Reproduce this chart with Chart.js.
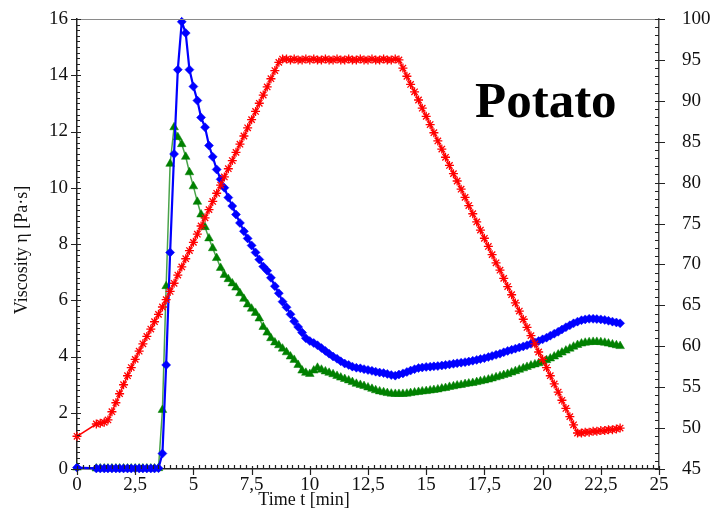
<!DOCTYPE html>
<html>
<head>
<meta charset="utf-8">
<script src="https://cdn.jsdelivr.net/npm/chart.js@4.4.1/dist/chart.umd.min.js"></script>
<style>
html,body{margin:0;padding:0;background:#fff;}
#wrap{width:717px;height:510px;}
</style>
</head>
<body>
<div id="wrap"><canvas id="c" width="717" height="510"></canvas></div>
<script>
// Time [min]
const timeMin = [
  0,
  0.83,
  1,1.17,1.33,1.5,1.67,1.83,
  2,2.17,2.33,2.5,2.67,2.83,
  3,3.17,3.33,3.5,3.67,3.83,
  4,4.17,4.33,4.5,4.67,4.83,
  5,5.17,5.33,5.5,5.67,5.83,
  6,6.17,6.33,6.5,6.67,6.83,
  7,7.17,7.33,7.5,7.67,7.83,
  8,8.17,8.33,8.5,8.67,8.83,
  9,9.17,9.33,9.5,9.67,9.83,
  10,10.17,10.33,10.5,10.67,10.83,
  11,11.17,11.33,11.5,11.67,11.83,
  12,12.17,12.33,12.5,12.67,12.83,
  13,13.17,13.33,13.5,13.67,13.83,
  14,14.17,14.33,14.5,14.67,14.83,
  15,15.17,15.33,15.5,15.67,15.83,
  16,16.17,16.33,16.5,16.67,16.83,
  17,17.17,17.33,17.5,17.67,17.83,
  18,18.17,18.33,18.5,18.67,18.83,
  19,19.17,19.33,19.5,19.67,19.83,
  20,20.17,20.33,20.5,20.67,20.83,
  21,21.17,21.33,21.5,21.67,21.83,
  22,22.17,22.33,22.5,22.67,22.83,
  23,23.17,23.33
];
// Viscosity, blue series [Pa·s]
const viscBlue = [
  0.05,
  0.02,
  0.02,0.02,0.02,0.02,0.02,0.02,
  0.02,0.02,0.02,0.02,0.02,0.02,
  0.02,0.02,0.02,0.03,0.55,3.7,
  7.7,11.2,14.2,15.9,15.5,14.2,
  13.6,13.1,12.5,12.15,11.5,11.1,
  10.65,10.3,10.0,9.65,9.35,9.05,
  8.75,8.45,8.2,7.95,7.7,7.45,
  7.2,7.05,6.8,6.5,6.25,5.95,
  5.75,5.5,5.25,5.05,4.85,4.65,
  4.55,4.48,4.4,4.3,4.2,4.1,
  4.0,3.92,3.83,3.75,3.7,3.64,
  3.6,3.58,3.55,3.52,3.49,3.46,
  3.43,3.41,3.38,3.34,3.32,3.36,
  3.4,3.45,3.5,3.55,3.59,3.61,
  3.63,3.64,3.65,3.66,3.68,3.7,
  3.72,3.74,3.76,3.78,3.8,3.82,
  3.85,3.88,3.91,3.94,3.98,4.02,
  4.06,4.1,4.15,4.2,4.24,4.28,
  4.32,4.36,4.4,4.45,4.5,4.55,
  4.61,4.67,4.74,4.81,4.88,4.96,
  5.04,5.11,5.18,5.24,5.29,5.32,
  5.34,5.34,5.33,5.32,5.3,5.27,
  5.24,5.21,5.18
];
// Viscosity, green series [Pa·s]
const viscGreen = [
  0.05,
  0.02,
  0.02,0.02,0.02,0.02,0.02,0.02,
  0.02,0.02,0.02,0.02,0.02,0.02,
  0.02,0.02,0.02,0.03,2.1,6.5,
  10.85,12.15,11.8,11.55,11.1,10.55,
  10.05,9.5,9.05,8.6,8.2,7.85,
  7.5,7.15,6.9,6.75,6.6,6.45,
  6.25,6.05,5.85,5.7,5.55,5.35,
  5.05,4.85,4.65,4.5,4.4,4.28,
  4.15,4.0,3.88,3.7,3.5,3.42,
  3.38,3.5,3.6,3.53,3.47,3.42,
  3.37,3.31,3.25,3.2,3.15,3.09,
  3.03,2.99,2.95,2.9,2.85,2.8,
  2.76,2.73,2.7,2.68,2.67,2.67,
  2.67,2.68,2.7,2.72,2.74,2.76,
  2.77,2.79,2.81,2.83,2.86,2.88,
  2.92,2.94,2.97,2.99,3.02,3.04,
  3.06,3.09,3.12,3.15,3.18,3.22,
  3.26,3.3,3.34,3.38,3.43,3.48,
  3.53,3.58,3.63,3.68,3.72,3.76,
  3.81,3.87,3.93,4.0,4.07,4.14,
  4.21,4.28,4.35,4.41,4.46,4.49,
  4.51,4.52,4.52,4.51,4.49,4.46,
  4.43,4.4,4.37
];
// Temperature, red series [°C] (right axis)
const temperature = [
  49.0,
  50.5,
  50.6,50.7,51.0,52.0,53.1,54.2,
  55.3,56.4,57.4,58.4,59.4,60.3,
  61.2,62.1,63.0,63.9,64.8,65.7,
  66.7,67.7,68.7,69.7,70.7,71.7,
  72.7,73.7,74.7,75.7,76.7,77.7,
  78.7,79.7,80.7,81.7,82.7,83.7,
  84.7,85.7,86.7,87.7,88.7,89.7,
  90.7,91.7,92.7,93.7,94.7,95.1,
  95.1,95.0,95.1,95.0,95.0,95.1,
  95.0,95.1,95.0,95.0,95.1,95.0,
  95.0,95.1,95.0,95.0,95.1,95.0,
  95.0,95.1,95.0,95.0,95.1,95.0,
  95.0,95.1,95.0,95.0,95.1,95.0,
  94.0,93.0,92.0,91.1,90.1,89.1,
  88.1,87.1,86.1,85.1,84.1,83.1,
  82.1,81.1,80.2,79.2,78.2,77.2,
  76.2,75.2,74.2,73.2,72.2,71.2,
  70.2,69.3,68.3,67.3,66.3,65.3,
  64.3,63.3,62.3,61.3,60.3,59.3,
  58.4,57.4,56.4,55.4,54.4,53.4,
  52.4,51.4,50.4,49.4,49.4,49.5,
  49.5,49.6,49.6,49.7,49.7,49.8,
  49.8,49.9,50.0
];
const xTicks = [0,2.5,5,7.5,10,12.5,15,17.5,20,22.5,25];
const yLeftTicks = [0,2,4,6,8,10,12,14,16];
const yRightTicks = [45,50,55,60,65,70,75,80,85,90,95,100];
const xTitle = 'Time t [min]';
const yTitle = 'Viscosity \u03b7 [Pa\u00b7s]';
const sampleLabel = 'Potato';

const pts = (ys) => timeMin.map((t, i) => ({x: t, y: ys[i]}));
const fmt = (v) => String(v).replace('.', ',');
const SERIF = "'Liberation Serif', 'DejaVu Serif', serif";

// fixed plot frame inside the 717x510 canvas
const FRAME = { left: 77, right: 659, top: 19, bottom: 469 };

const frameFix = {
  id: 'frameFix',
  afterLayout(chart) {
    const ca = chart.chartArea;
    ca.left = FRAME.left; ca.right = FRAME.right; ca.top = FRAME.top; ca.bottom = FRAME.bottom;
    ca.width = FRAME.right - FRAME.left; ca.height = FRAME.bottom - FRAME.top;
    const sx = chart.scales.x, sl = chart.scales.y, sr = chart.scales.y2;
    sx.left = FRAME.left; sx.right = FRAME.right; sx.width = FRAME.right - FRAME.left;
    sx.top = FRAME.bottom; sx.bottom = 510; sx.height = 510 - FRAME.bottom;
    sl.top = FRAME.top; sl.bottom = FRAME.bottom; sl.height = FRAME.bottom - FRAME.top;
    sl.left = 0; sl.right = FRAME.left; sl.width = FRAME.left;
    sr.top = FRAME.top; sr.bottom = FRAME.bottom; sr.height = FRAME.bottom - FRAME.top;
    sr.left = FRAME.right; sr.right = 717; sr.width = 717 - FRAME.right;
    [sx, sl, sr].forEach(s => s.configure());
  }
};

const decor = {
  id: 'decor',
  afterDraw(chart) {
    const ctx = chart.ctx;
    const a = chart.chartArea;
    const sx = chart.scales.x, sl = chart.scales.y, sr = chart.scales.y2;
    ctx.save();
    ctx.strokeStyle = '#8a8a8a';
    ctx.lineWidth = 1;
    ctx.beginPath();
    ctx.moveTo(a.left, Math.round(a.top) + 0.5);
    ctx.lineTo(a.right, Math.round(a.top) + 0.5);
    ctx.stroke();
    ctx.strokeStyle = '#222';
    ctx.lineWidth = 1.2;
    ctx.beginPath();
    for (let i = 0; i <= 100; i++) {
      const v = i * 0.25;
      const px = Math.round(sx.getPixelForValue(v)) + 0.5;
      if (i % 10 === 0) { ctx.moveTo(px, a.bottom - 3); ctx.lineTo(px, a.bottom + 6); }
      else { ctx.moveTo(px, a.bottom - 4); ctx.lineTo(px, a.bottom); }
    }
    for (let i = 0; i <= 80; i++) {
      const v = i * 0.2;
      const py = Math.round(sl.getPixelForValue(v)) + 0.5;
      if (i % 10 === 0) { ctx.moveTo(a.left - 6, py); ctx.lineTo(a.left + 4, py); }
      else { ctx.moveTo(a.left, py); ctx.lineTo(a.left + 3, py); }
    }
    for (let i = 0; i <= 55; i++) {
      const v = 45 + i;
      const py = Math.round(sr.getPixelForValue(v)) + 0.5;
      if (i % 5 === 0) { ctx.moveTo(a.right - 4, py); ctx.lineTo(a.right + 6, py); }
      else { ctx.moveTo(a.right - 4, py); ctx.lineTo(a.right, py); }
    }
    ctx.stroke();
    ctx.fillStyle = '#111';
    ctx.font = '18px ' + SERIF;
    ctx.textAlign = 'center';
    ctx.textBaseline = 'middle';
    ctx.fillText(xTitle, 304, 500);
    ctx.translate(22, 250);
    ctx.rotate(-Math.PI / 2);
    ctx.fillText(yTitle, 0, 0);
    ctx.setTransform(1, 0, 0, 1, 0, 0);
    ctx.fillStyle = '#000';
    ctx.font = 'bold 51px ' + SERIF;
    ctx.textAlign = 'left';
    ctx.textBaseline = 'alphabetic';
    ctx.fillText(sampleLabel, 475, 117);
    ctx.restore();
  }
};

new Chart(document.getElementById('c'), {
  type: 'line',
  data: {
    datasets: [
      {
        label: 'Temperature',
        data: pts(temperature),
        yAxisID: 'y2',
        borderColor: '#ff0000',
        backgroundColor: '#ff0000',
        borderWidth: 1.5,
        pointStyle: 'star',
        pointRadius: 4.5,
        pointBorderWidth: 1.3,
        pointBorderColor: '#ff0000',
        tension: 0,
        clip: false
      },
      {
        label: 'Blue',
        data: pts(viscBlue),
        yAxisID: 'y',
        borderColor: '#0000ff',
        backgroundColor: '#0000ff',
        borderWidth: 2.2,
        pointStyle: 'rectRot',
        pointRadius: 4.5,
        pointBorderWidth: 0.5,
        pointBorderColor: '#0000ff',
        tension: 0,
        clip: false
      },
      {
        label: 'Green',
        data: pts(viscGreen),
        yAxisID: 'y',
        borderColor: '#4aa34a',
        backgroundColor: '#008000',
        borderWidth: 1.5,
        pointStyle: 'triangle',
        pointRadius: 5,
        pointBorderWidth: 0.5,
        pointBorderColor: '#008000',
        tension: 0,
        clip: false
      }
    ]
  },
  options: {
    responsive: false,
    animation: false,
    layout: { padding: 0 },
    plugins: { legend: { display: false }, tooltip: { enabled: false }, title: { display: false } },
    scales: {
      x: {
        type: 'linear',
        min: 0, max: 25,
        afterBuildTicks: (s) => { s.ticks = xTicks.map(v => ({value: v})); },
        ticks: { callback: fmt, font: { family: SERIF, size: 19 }, color: '#111', padding: 5, maxRotation: 0, autoSkip: false },
        grid: { display: false, drawTicks: false },
        border: { display: true, color: '#222', width: 1.5 }
      },
      y: {
        type: 'linear',
        position: 'left',
        min: 0, max: 16,
        afterBuildTicks: (s) => { s.ticks = yLeftTicks.map(v => ({value: v})); },
        ticks: { font: { family: SERIF, size: 19 }, color: '#111', padding: 9 },
        grid: { display: false, drawTicks: false },
        border: { display: true, color: '#222', width: 1.5 }
      },
      y2: {
        type: 'linear',
        position: 'right',
        min: 45, max: 100,
        afterBuildTicks: (s) => { s.ticks = yRightTicks.map(v => ({value: v})); },
        ticks: { font: { family: SERIF, size: 19 }, color: '#111', padding: 23 },
        grid: { display: false, drawTicks: false },
        border: { display: true, color: '#444', width: 1.5 }
      }
    }
  },
  plugins: [frameFix, decor]
});
</script>
</body>
</html>
